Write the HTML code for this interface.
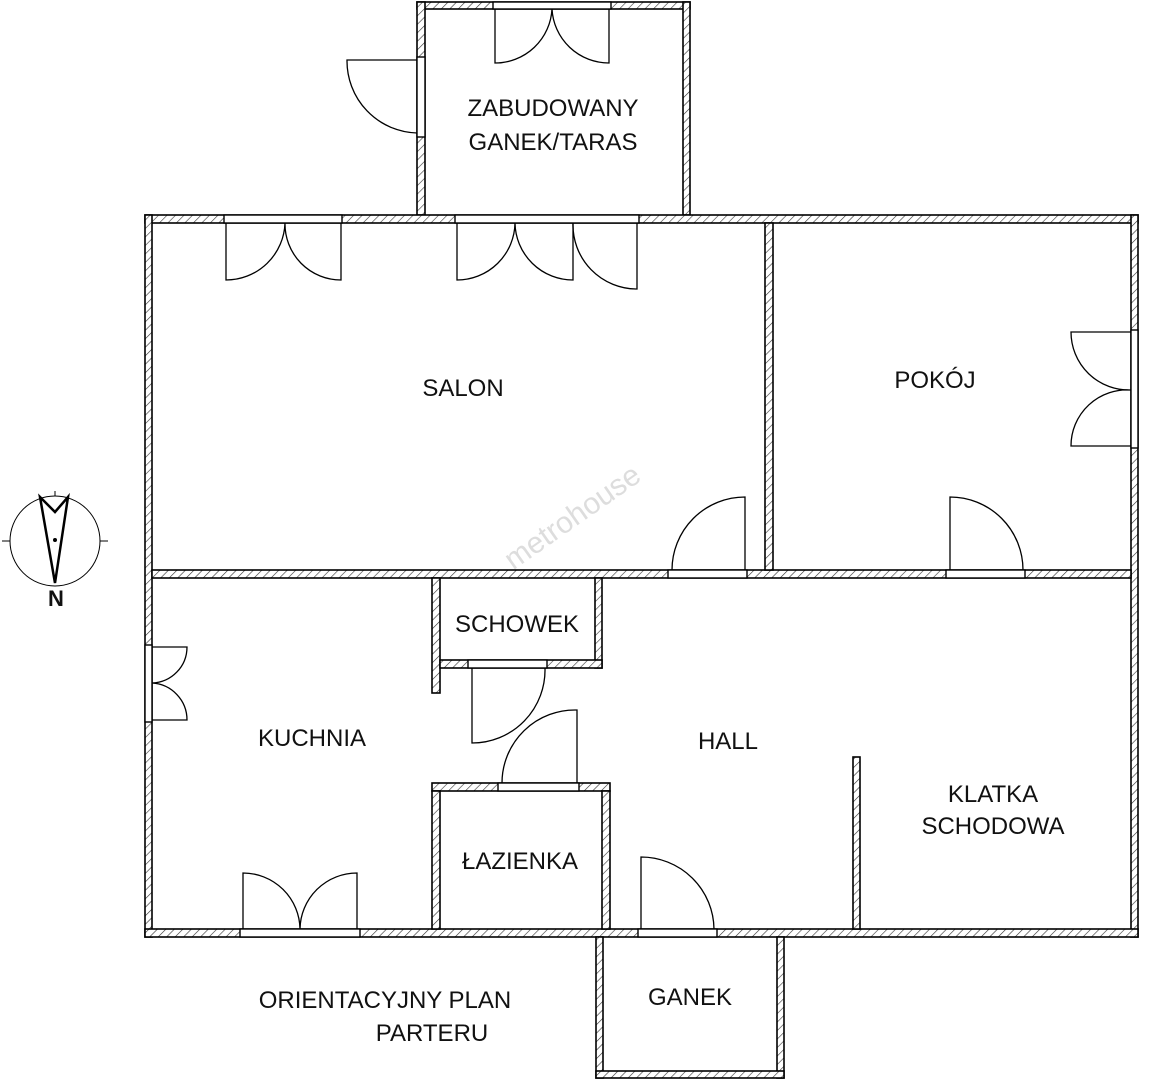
<!DOCTYPE html>
<html><head><meta charset="utf-8"><style>
html,body{margin:0;padding:0;background:#fff;}
svg{display:block;}
text{font-family:"Liberation Sans",sans-serif;font-size:24px;fill:#111;text-anchor:middle;}
</style></head><body>
<svg width="1160" height="1080" viewBox="0 0 1160 1080" xmlns="http://www.w3.org/2000/svg">
<defs>
<pattern id="h" width="6" height="6" patternUnits="userSpaceOnUse" patternTransform="rotate(45)">
<rect width="6" height="6" fill="#fff"/><line x1="0" y1="0" x2="0" y2="6" stroke="#333" stroke-width="1.2"/>
</pattern>
</defs>
<text x="578" y="525" transform="rotate(-35 578 525)" style="font-size:30px;fill:#ddd">metrohouse</text>
<g fill="url(#h)" stroke="#000" stroke-width="1.6">
<rect x="417" y="2" width="273" height="7"/>
<rect x="417" y="2" width="8" height="213"/>
<rect x="683" y="2" width="7" height="213"/>
<rect x="145" y="215" width="993" height="8"/>
<rect x="145" y="215" width="7" height="722"/>
<rect x="1131" y="215" width="7" height="722"/>
<rect x="145" y="929" width="993" height="8"/>
<rect x="152" y="570" width="979" height="8"/>
<rect x="765" y="223" width="8" height="347"/>
<rect x="432" y="578" width="8" height="115"/>
<rect x="595" y="578" width="7" height="90"/>
<rect x="440" y="660" width="162" height="8"/>
<rect x="432" y="783" width="178" height="8"/>
<rect x="432" y="791" width="8" height="138"/>
<rect x="602" y="791" width="8" height="138"/>
<rect x="853" y="757" width="7" height="172"/>
<rect x="596" y="937" width="7" height="141"/>
<rect x="777" y="937" width="7" height="141"/>
<rect x="596" y="1071" width="188" height="7"/>
</g>
<g fill="#fff" stroke="#000" stroke-width="1.4">
<rect x="493" y="2" width="118" height="7"/>
<rect x="417" y="57" width="8" height="80"/>
<rect x="224" y="215" width="118" height="8"/>
<rect x="455" y="215" width="184" height="8"/>
<rect x="1131" y="330" width="7" height="118"/>
<rect x="668" y="570" width="79" height="8"/>
<rect x="946" y="570" width="79" height="8"/>
<rect x="145" y="645" width="7" height="77"/>
<rect x="240" y="929" width="120" height="8"/>
<rect x="468" y="660" width="79" height="8"/>
<rect x="498" y="783" width="81" height="8"/>
<rect x="638" y="929" width="79" height="8"/>
</g>
<g fill="none" stroke="#000" stroke-width="1.3">
<path d="M495 9V63A57 57 0 0 0 552 9M609 9V63A57 57 0 0 1 552 9"/>
<path d="M417 60H347A72 72 0 0 0 417 133"/>
<path d="M226 223V280A59 59 0 0 0 285 223M341 223V280A56 56 0 0 1 285 223"/>
<path d="M457 223V280A58 58 0 0 0 515 223M573 223V280A58 58 0 0 1 515 223"/>
<path d="M637 223V289A64 64 0 0 1 573 223"/>
<path d="M1131 332H1071A58 58 0 0 0 1131 390M1131 446H1071A56 56 0 0 1 1131 390"/>
<path d="M745 570V497A73 73 0 0 0 672 570"/>
<path d="M950 570V497A73 73 0 0 1 1023 570"/>
<path d="M152 647H187A36 36 0 0 1 152 683M152 720H187A37 37 0 0 0 152 683"/>
<path d="M243 929V873A57 57 0 0 1 300 929M357 929V873A57 57 0 0 0 300 929"/>
<path d="M472 668V743A73 73 0 0 0 545 668"/>
<path d="M577 783V710A73 73 0 0 0 502 783"/>
<path d="M641 929V857A73 73 0 0 1 714 929"/>
</g>
<g fill="none" stroke="#000">
<circle cx="55" cy="541" r="45" stroke-width="1"/>
<path d="M55 491V496M2 541H10M100 541H108" stroke-width="1"/>
<path d="M40 497L55 512L68 497L55 583Z" stroke-width="2.5"/>
<circle cx="55" cy="540" r="1.5" fill="#000"/>
</g>
<text x="56" y="606" style="font-size:22px;font-weight:bold">N</text>
<text x="553" y="116">ZABUDOWANY</text>
<text x="553" y="150">GANEK/TARAS</text>
<text x="463" y="396">SALON</text>
<text x="935" y="388">POKÓJ</text>
<text x="517" y="632">SCHOWEK</text>
<text x="312" y="746">KUCHNIA</text>
<text x="728" y="749">HALL</text>
<text x="993" y="802">KLATKA</text>
<text x="993" y="834">SCHODOWA</text>
<text x="520" y="869">ŁAZIENKA</text>
<text x="690" y="1005">GANEK</text>
<text x="385" y="1008">ORIENTACYJNY PLAN</text>
<text x="432" y="1041">PARTERU</text>
</svg>
</body></html>
